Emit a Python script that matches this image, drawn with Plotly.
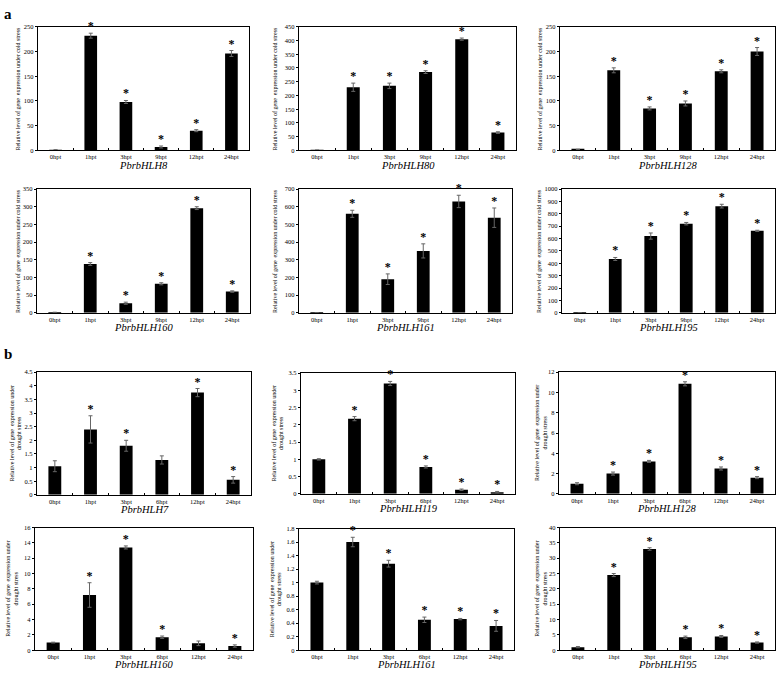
import plotly.graph_objects as go

# ---------------- data ----------------
cold_times = ["0hpt", "1hpt", "3hpt", "9hpt", "12hpt", "24hpt"]
drought_times = ["0hpt", "1hpt", "3hpt", "6hpt", "12hpt", "24hpt"]

cold_genes = ["PbrbHLH8", "PbrbHLH80", "PbrbHLH128", "PbrbHLH160", "PbrbHLH161", "PbrbHLH195"]
drought_genes = ["PbrbHLH7", "PbrbHLH119", "PbrbHLH128", "PbrbHLH160", "PbrbHLH161", "PbrbHLH195"]

# cold stress means / errors / significance
cold_bHLH8 = [1, 232, 98, 7, 40, 196]
cold_bHLH8_err = [0.5, 5, 3, 2, 2, 6]
cold_bHLH80 = [1, 230, 235, 285, 405, 65]
cold_bHLH80_err = [0.5, 15, 10, 5, 4, 3]
cold_bHLH128 = [2, 162, 85, 95, 160, 200]
cold_bHLH128_err = [0.5, 5, 3, 5, 3, 8]
cold_bHLH160 = [1, 138, 27, 82, 296, 60]
cold_bHLH160_err = [0.5, 4, 3, 3, 4, 2]
cold_bHLH161 = [1, 560, 190, 350, 630, 538]
cold_bHLH161_err = [0.5, 20, 30, 40, 35, 55]
cold_bHLH195 = [1, 435, 620, 720, 862, 662]
cold_bHLH195_err = [0.5, 12, 25, 10, 15, 5]

cold_sig = [
    [0, 1, 1, 1, 1, 1],
    [0, 1, 1, 1, 1, 1],
    [0, 1, 1, 1, 1, 1],
    [0, 1, 1, 1, 1, 1],
    [0, 1, 1, 1, 1, 1],
    [0, 1, 1, 1, 1, 1],
]

# drought stress means / errors / significance
dr_bHLH7 = [1.05, 2.4, 1.8, 1.28, 3.75, 0.55]
dr_bHLH7_err = [0.2, 0.5, 0.2, 0.15, 0.15, 0.12]
dr_bHLH119 = [1.0, 2.18, 3.2, 0.78, 0.12, 0.05]
dr_bHLH119_err = [0.02, 0.06, 0.06, 0.03, 0.02, 0.02]
dr_bHLH128 = [1.0, 2.0, 3.2, 10.85, 2.5, 1.6]
dr_bHLH128_err = [0.1, 0.15, 0.1, 0.2, 0.15, 0.1]
dr_bHLH160 = [1.0, 7.2, 13.4, 1.7, 0.9, 0.55]
dr_bHLH160_err = [0.05, 1.6, 0.2, 0.15, 0.3, 0.15]
dr_bHLH161 = [1.0, 1.6, 1.28, 0.45, 0.46, 0.36]
dr_bHLH161_err = [0.02, 0.07, 0.05, 0.04, 0.01, 0.08]
dr_bHLH195 = [1.0, 24.5, 33.0, 4.2, 4.5, 2.5]
dr_bHLH195_err = [0.2, 0.5, 0.4, 0.4, 0.3, 0.2]

drought_sig = [
    [0, 1, 1, 0, 1, 1],
    [0, 1, 1, 1, 1, 1],
    [0, 1, 1, 1, 1, 1],
    [0, 1, 1, 1, 0, 1],
    [0, 1, 1, 1, 1, 1],
    [0, 1, 1, 1, 1, 1],
]

cold_ymax = [250, 450, 250, 350, 700, 1000]
cold_dtick = [50, 50, 50, 50, 100, 100]
drought_ymax = [4.5, 3.5, 12, 16, 1.8, 40]
drought_dtick = [0.5, 0.5, 2, 2, 0.2, 5]

cold_means = [cold_bHLH8, cold_bHLH80, cold_bHLH128, cold_bHLH160, cold_bHLH161, cold_bHLH195]
cold_errs = [cold_bHLH8_err, cold_bHLH80_err, cold_bHLH128_err, cold_bHLH160_err, cold_bHLH161_err, cold_bHLH195_err]
dr_means = [dr_bHLH7, dr_bHLH119, dr_bHLH128, dr_bHLH160, dr_bHLH161, dr_bHLH195]
dr_errs = [dr_bHLH7_err, dr_bHLH119_err, dr_bHLH128_err, dr_bHLH160_err, dr_bHLH161_err, dr_bHLH195_err]

cold_label = "Relative level of gene  expression under cold stress"
drought_label = "Relative level of gene  expression under<br>drought stress"

# ---------------- layout geometry (pixels) ----------------
W, H = 778, 675
# (left, right, top, bottom) of each plot frame
boxes = [
    (38, 249, 23, 148), (299, 516, 23, 148), (560, 775, 23, 148),
    (37, 250, 187, 312), (299, 512, 187, 312), (562, 775, 187, 312),
    (37, 251, 372, 496), (301, 515, 373, 495), (559, 775, 372, 495),
    (35, 253, 529, 653), (299, 514, 530, 653), (560, 775, 529, 653),
]
ylab_x = [18, 275, 540, 18, 275, 539, 16, 278, 541, 12, 276, 541]
title_gap = [15, 15, 15, 15, 15, 15, 15, 15, 15, 14, 14, 14]

FONT = "Liberation Serif"

fig = go.Figure()
layout = dict(
    width=W, height=H, margin=dict(l=0, r=0, t=0, b=0),
    paper_bgcolor="white", plot_bgcolor="white", showlegend=False,
    font=dict(family=FONT, color="black"),
)
annotations = []

for i in range(12):
    cold = i < 6
    k = i if cold else i - 6
    times = cold_times if cold else drought_times
    means = cold_means[k] if cold else dr_means[k]
    errs = cold_errs[k] if cold else dr_errs[k]
    sig = cold_sig[k] if cold else drought_sig[k]
    ymax = cold_ymax[k] if cold else drought_ymax[k]
    dtick = cold_dtick[k] if cold else drought_dtick[k]
    gene = cold_genes[k] if cold else drought_genes[k]
    ax = "" if i == 0 else str(i + 1)
    xa, ya = "x" + ax, "y" + ax

    fig.add_trace(go.Bar(
        x=times, y=means, xaxis=xa, yaxis=ya, width=0.36,
        marker=dict(color="black", line=dict(width=0)),
        error_y=dict(type="data", array=errs, visible=True,
                     color="#666666", thickness=1, width=2),
    ))
    sx = [t for t, s in zip(times, sig) if s]
    sy = [m + e for m, e, s in zip(means, errs, sig) if s]
    fig.add_trace(go.Scatter(
        x=sx, y=sy, xaxis=xa, yaxis=ya, mode="text", text=["*"] * len(sx),
        textposition="top center",
        textfont=dict(size=12, color="#000000", family=FONT, weight="bold"),
        cliponaxis=False,
    ))

    l, r, t, b = boxes[i]
    layout["xaxis" + ax] = dict(
        domain=[l / W, r / W], anchor=ya, type="category",
        showline=True, linecolor="black", linewidth=1.2, mirror=True,
        ticks="inside", ticklen=2, tickson="boundaries", tickcolor="black",
        tickfont=dict(size=6.5, family=FONT), showgrid=False, fixedrange=True,
    )
    layout["yaxis" + ax] = dict(
        domain=[1 - b / H, 1 - t / H], anchor=xa, range=[0, ymax], dtick=dtick,
        showline=True, linecolor="black", linewidth=1.2, mirror=True,
        ticks="outside", ticklen=2, tickcolor="black",
        tickfont=dict(size=6.5, family=FONT), showgrid=False, zeroline=False,
    )
    annotations.append(dict(
        text=gene, x=(l + r) / 2 / W, y=1 - (b + title_gap[i]) / H, xref="paper", yref="paper",
        xanchor="center", yanchor="middle", showarrow=False,
        font=dict(size=10.5, family=FONT, style="italic"),
    ))
    annotations.append(dict(
        text=cold_label if cold else drought_label,
        x=ylab_x[i] / W, y=1 - (t + b) / 2 / H, xref="paper", yref="paper",
        xanchor="center", yanchor="middle", showarrow=False, textangle=-90,
        font=dict(size=6, family=FONT),
    ))

annotations.append(dict(text="<b>a</b>", x=2 / W, y=1 - 10 / H, xref="paper", yref="paper",
                        xanchor="left", yanchor="middle", showarrow=False,
                        font=dict(size=15, family=FONT)))
annotations.append(dict(text="<b>b</b>", x=2 / W, y=1 - 354 / H, xref="paper", yref="paper",
                        xanchor="left", yanchor="middle", showarrow=False,
                        font=dict(size=15, family=FONT)))
layout["annotations"] = annotations
fig.update_layout(**layout)
fig.write_html("out.html",
               config=dict(displayModeBar=False),
               post_script="document.body.style.margin='0';document.body.style.overflow='hidden';")
